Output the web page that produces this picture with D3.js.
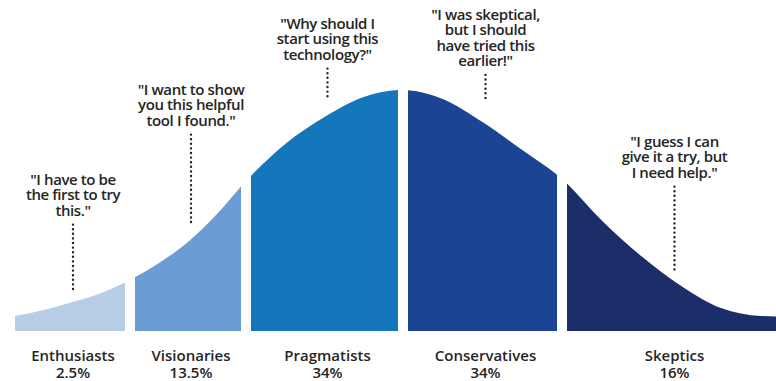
<!DOCTYPE html>
<html>
<head>
<meta charset="utf-8">
<script src="https://cdn.jsdelivr.net/npm/d3@7"></script>
<style>
  html, body { margin: 0; padding: 0; background: #ffffff; }
  svg { display: block; }
  text { font-family: "Open Sans", "Noto Sans", sans-serif; font-weight: 600; fill: #252525; }
</style>
</head>
<body>
<svg id="chart" width="776" height="381"></svg>
<script>
// ---------- data ----------
const categories = ["Enthusiasts", "Visionaries", "Pragmatists", "Conservatives", "Skeptics"];
const shares = [2.5, 13.5, 34, 34, 16];
// segment boundaries on the adoption axis (standard deviations from the mean)
const boundaries = [-3, -2, -1, 0, 1, 3];
// bell curve: position (sd) and height (% of peak)
const curveSigma  = [-3, -2.75, -2.5, -2.25, -2, -1.75, -1.5, -1.25, -1, -0.75, -0.5, -0.25, 0, 0.25, 0.5, 0.75, 1, 1.25, 1.5, 1.75, 2, 2.25, 2.5];
const curveHeight = [6.2, 8.7, 12.0, 15.8, 21.2, 28.2, 36.9, 48.5, 62.2, 77.6, 88.8, 97.1, 100, 96.3, 86.7, 75.1, 63.1, 45.9, 31.0, 18.7, 9.5, 6.2, 5.8];
const quotes = [
  ["\"I have to be", "the first to try", "this.\""],
  ["\"I want to show", "you this helpful", "tool I found.\""],
  ["\"Why should I", "start using this", "technology?\""],
  ["\"I was skeptical,", "but I should", "have tried this", "earlier!\""],
  ["\"I guess I can", "give it a try, but", "I need help.\""]
];
const colors = ["#b8cde6", "#6b9cd3", "#1476bb", "#1b4594", "#1c2e6a"];

// ---------- layout ----------
const W = 776, H = 381;
const baseY = 331, peakY = 90;
const gap = 10;
const quoteFirstBaseline = [185, 95, 29, 20, 147];
const quoteLineStep = 15.3;
const dotBottom = [293, 223, 97, 102, 273];

const svg = d3.select("#chart");

// polylinear x scale: adoption axis (sd) -> pixels
const x = d3.scaleLinear()
  .domain([-3, -2, -1, 0, 1, 2, 3])
  .range([15, 130, 246, 403, 562, 721, 880]);
const y = d3.scaleLinear().domain([0, 100]).range([baseY, peakY]);

const pts = curveSigma.map((s, i) => ({ s, h: curveHeight[i] }));
const area = d3.area()
  .x(d => x(d.s))
  .y0(y(0))
  .y1(d => y(d.h))
  .curve(d3.curveMonotoneX);

const defs = svg.append("defs");
const segs = categories.map((c, i) => {
  const x0 = i === 0 ? x(boundaries[0]) : x(boundaries[i]) + gap / 2;
  const x1 = i === categories.length - 1 ? W : x(boundaries[i + 1]) - gap / 2;
  return { c, i, x0, x1, cx: (x0 + x1) / 2 + 3 };
});

segs.forEach(sg => {
  defs.append("clipPath").attr("id", "clip" + sg.i)
    .append("rect")
    .attr("x", sg.x0).attr("y", 0)
    .attr("width", sg.x1 - sg.x0).attr("height", H);
});

svg.append("g").selectAll("path")
  .data(segs)
  .join("path")
  .attr("d", area(pts))
  .attr("clip-path", d => `url(#clip${d.i})`)
  .attr("fill", d => colors[d.i]);

// labels
const lab = svg.append("g").attr("text-anchor", "middle").style("font-size", "15px");
segs.forEach(sg => {
  lab.append("text").attr("x", sg.cx).attr("y", 361).text(sg.c);
  lab.append("text").attr("x", sg.cx).attr("y", 378).text(shares[sg.i] + "%");
});

// quotes and dotted leaders
const q = svg.append("g").attr("text-anchor", "middle").style("font-size", "15px").style("letter-spacing", "-0.4px");
segs.forEach(sg => {
  const lines = quotes[sg.i];
  lines.forEach((ln, k) => {
    q.append("text").attr("x", sg.cx).attr("y", quoteFirstBaseline[sg.i] + k * quoteLineStep).text(ln);
  });
  const top = quoteFirstBaseline[sg.i] + (lines.length - 1) * quoteLineStep + 9;
  svg.append("line")
    .attr("x1", sg.cx).attr("x2", sg.cx)
    .attr("y1", top).attr("y2", dotBottom[sg.i])
    .attr("stroke", "#222")
    .attr("stroke-width", 2.4)
    .attr("stroke-linecap", "round")
    .attr("stroke-dasharray", "0 4.6");
});
</script>
</body>
</html>
